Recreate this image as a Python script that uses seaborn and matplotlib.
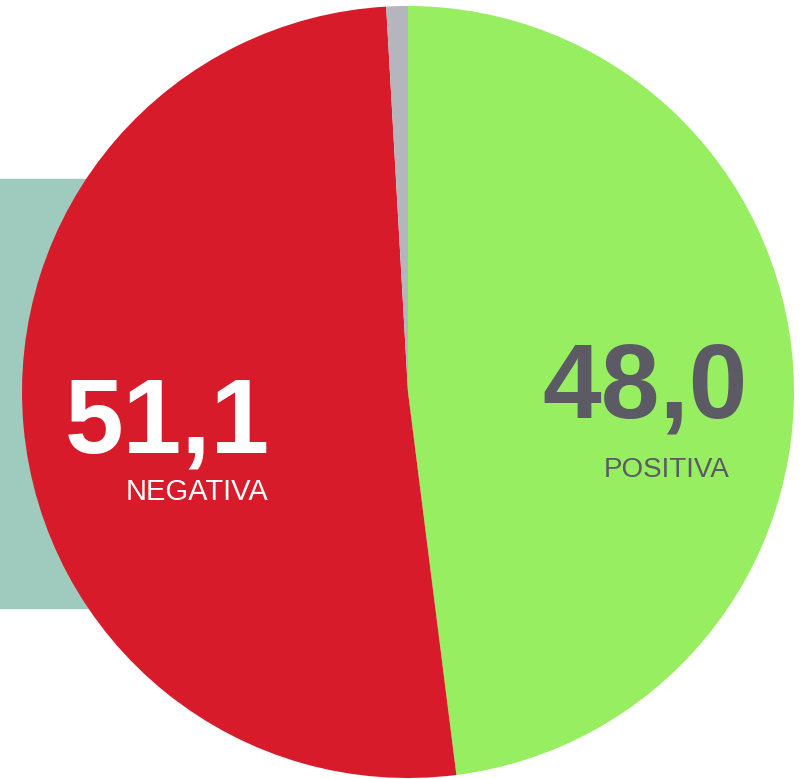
import matplotlib
matplotlib.use("Agg")
import matplotlib.pyplot as plt
import seaborn as sns
from matplotlib.patches import Rectangle

# data
labels = ["POSITIVA", "NEGATIVA", "OTRO"]
values = [48.0, 51.1, 0.9]
colors = ["#97ee60", "#d81b2a", "#b5b5bd"]
value_text = ["48,0", "51,1", ""]

sns.set_theme(style="white")
plt.rcParams['font.family'] = ['Liberation Sans', 'DejaVu Sans']

W, H = 807, 779
fig = plt.figure(figsize=(W / 100, H / 100), dpi=100)
ax = fig.add_axes([0, 0, 1, 1])

# teal panel behind the pie (pixel coords, y measured from the bottom)
ax.add_patch(Rectangle((0, H - 608), 200, 429, color="#9fcbbf", zorder=0))

wedges, _ = ax.pie(values, colors=colors, startangle=90, counterclock=False,
                   center=(408, H - 392), radius=386, frame=True,
                   wedgeprops=dict(linewidth=0))
for w in wedges:
    w.set_zorder(1)
ax.set_xlim(0, W)
ax.set_ylim(0, H)
ax.axis("off")

# labels
ax.text(167, H - 452, value_text[1], color="white", fontsize=76, fontweight="bold",
        ha="center", va="baseline", zorder=3)
ax.text(197, H - 500, labels[1], color="white", fontsize=21,
        ha="center", va="baseline", zorder=3)
ax.text(645, H - 417, value_text[0], color="#5c5a64", fontsize=76, fontweight="bold",
        ha="center", va="baseline", zorder=3)
ax.text(667, H - 477, labels[0], color="#5c5a64", fontsize=20,
        ha="center", va="baseline", zorder=3)

fig.savefig("out.png", dpi=100)
